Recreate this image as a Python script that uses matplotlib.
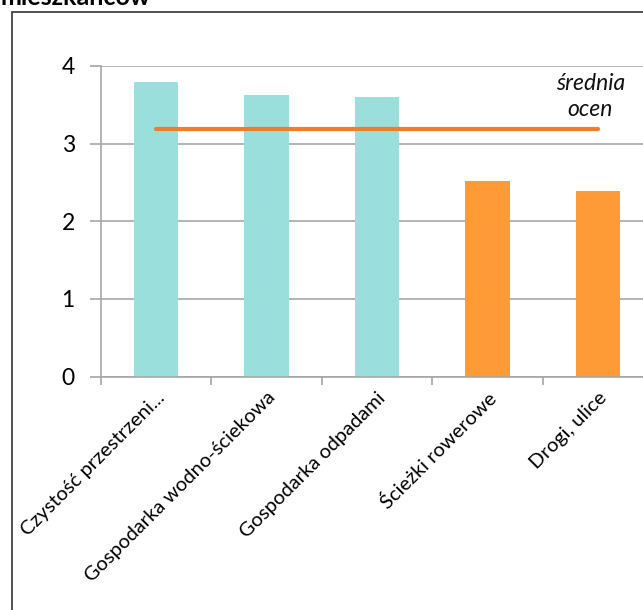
import matplotlib
matplotlib.use("Agg")
import matplotlib.pyplot as plt
from matplotlib.patches import Rectangle
import numpy as np

categories = ["Czystość przestrzeni...", "Gospodarka wodno-ściekowa",
              "Gospodarka odpadami", "Ścieżki rowerowe", "Drogi, ulice"]
values = [3.80, 3.63, 3.60, 2.52, 2.39]
bar_colors = ["#9BDFDC", "#9BDFDC", "#9BDFDC", "#FE9B37", "#FE9B37"]
mean_label = "średnia\nocen"
title = "mieszkańców"

plt.rcParams['font.family'] = ['Lato', 'DejaVu Sans']

fig = plt.figure(figsize=(6.43, 6.10), dpi=100)
W, H = 643, 610
ax = fig.add_axes([100.5 / W, (H - 376.5) / H, 553 / W, 310.5 / H])

x = np.arange(len(categories))
ax.bar(x, values, width=0.4, color=bar_colors, zorder=2)
mean = np.mean(values)
ax.plot([x[0], x[-1]], [mean, mean], color="#F07D2E", lw=3, solid_capstyle='round', zorder=3)
ax.text(3.93, 3.61, mean_label, ha='center', va='center', fontsize=16.5,
        style='italic', linespacing=1.3, color='#111111')

ax.set_xlim(-0.5, 4.5)
ax.set_ylim(0, 4)
ax.set_yticks([0, 1, 2, 3, 4])
ax.yaxis.grid(True, color='#A6A6A6', lw=1.2, zorder=0)
ax.set_axisbelow(True)
for s in ['top', 'right']:
    ax.spines[s].set_visible(False)
for s in ['left', 'bottom']:
    ax.spines[s].set_color('#A6A6A6')
    ax.spines[s].set_linewidth(1.2)
ax.tick_params(axis='y', length=8, color='#A6A6A6', width=1.2, labelsize=16.5, pad=10.5)
ax.set_xticks(x)
ax.set_xticklabels(categories, rotation=45, ha='right', va='top',
                   rotation_mode='anchor', fontsize=14.5)
ax.tick_params(axis='x', which='major', length=0, pad=9)
ax.set_xticks(np.arange(-0.5, 5, 1), minor=True)
ax.tick_params(axis='x', which='minor', length=6, color='#A6A6A6', width=1.2)

fig.patches.append(Rectangle((11.5 / W, -0.1), 1.2, (H - 12) / H + 0.1,
                             transform=fig.transFigure, fill=False,
                             edgecolor='#333333', lw=1.2))
fig.text(0.0, (H - 5) / H, title, fontsize=18, fontweight='bold', ha='left', va='baseline')

fig.savefig("out.png", dpi=100)
